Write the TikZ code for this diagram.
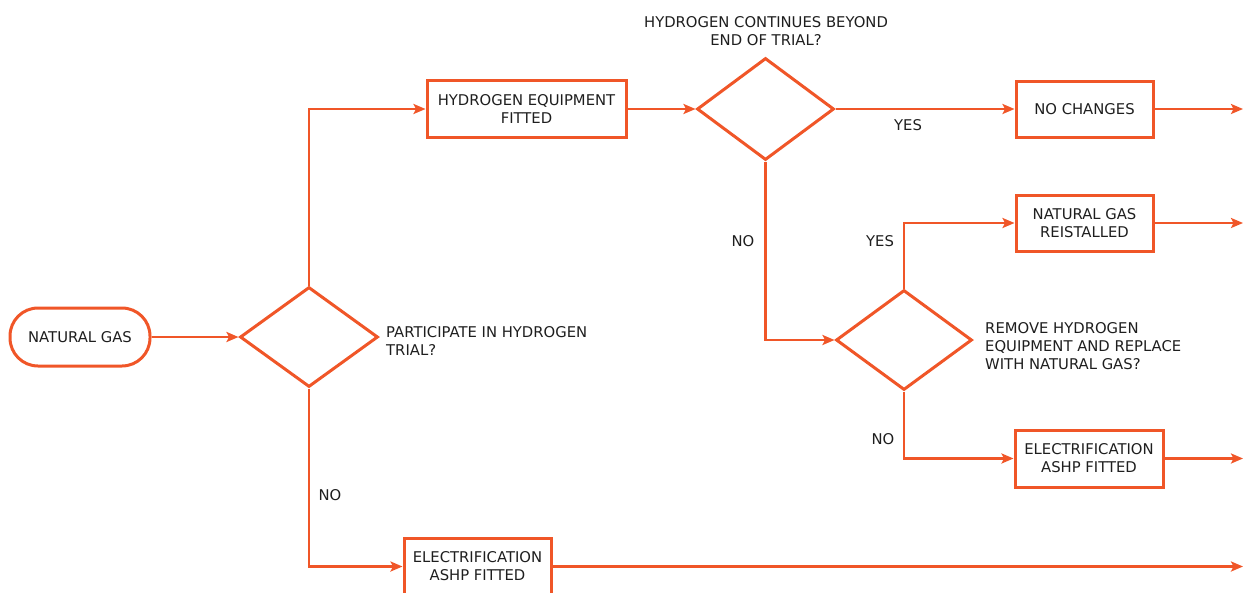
\documentclass[tikz,border=0pt]{standalone}
\usepackage{fontspec}
\setmainfont{DejaVu Sans}
\usetikzlibrary{shapes.geometric,arrows.meta}
\definecolor{flow}{RGB}{240,86,40}
\definecolor{ink}{RGB}{30,30,30}
\tikzset{
  every node/.style={text=ink,font=\fontsize{14.8}{17.8}\selectfont},
  link/.style={draw=flow,line width=2.8pt,-{Stealth[length=12pt,width=10pt,inset=2.5pt]}},
  stepbox/.style={draw=flow,line width=3pt,rectangle,align=center,inner sep=0pt},
  startbox/.style={draw=flow,line width=3pt,rectangle,rounded corners=28pt,align=center,inner sep=0pt,minimum width=140pt,minimum height=58pt},
  decide/.style={draw=flow,line width=3pt,diamond,inner sep=0pt},
  tag/.style={inner sep=0pt},
  question/.style={inner sep=0pt,align=left,anchor=west}
}
\begin{document}
\begin{tikzpicture}[x=1pt,y=-1pt]
\useasboundingbox (0,0) rectangle (1244,592);

% start
\node[startbox] (ng) at (80,337) {NATURAL GAS};

% first decision
\node[decide,minimum width=138pt,minimum height=100pt] (d1) at (309,337) {};
\node[question] (q1) at (386,341) {PARTICIPATE IN HYDROGEN\\TRIAL?};

% hydrogen branch
\node[stepbox,minimum width=199pt,minimum height=57pt] (h2) at (526.5,109) {HYDROGEN EQUIPMENT\\FITTED};
\node[decide,minimum width=137pt,minimum height=102pt] (d2) at (765.5,109) {};
\node[tag,align=center] (q2) at (766,31) {HYDROGEN CONTINUES BEYOND\\END OF TRIAL?};
\node[stepbox,minimum width=137pt,minimum height=56pt] (nc) at (1084.5,109) {NO CHANGES};

% end-of-trial decision
\node[decide,minimum width=136pt,minimum height=100pt] (d3) at (904,340) {};
\node[question] (q3) at (985,346) {REMOVE HYDROGEN\\EQUIPMENT AND REPLACE\\WITH NATURAL GAS?};
\node[stepbox,minimum width=137pt,minimum height=56pt] (re) at (1084.5,223) {NATURAL GAS\\REISTALLED};
\node[stepbox,minimum width=148pt,minimum height=57pt] (el1) at (1089,458.5) {ELECTRIFICATION\\ASHP FITTED};

% electrification without trial
\node[stepbox,minimum width=147pt,minimum height=57pt] (el2) at (477.5,566.5) {ELECTRIFICATION\\ASHP FITTED};

% right-hand edge where the outgoing arrows stop
\coordinate (edge) at (1243,0);

% connectors
\draw[link] (ng.east) -- (d1.west);
\draw[link] (d1.north) |- (h2.west);
\draw[link] (d1.south) |- (el2.west);
\draw[link] (h2.east) -- (d2.west);
\draw[link] (d2.east) -- (nc.west);
\draw[link] (d2.south) |- (d3.west);
\draw[link] (d3.north) |- (re.west);
\draw[link] (d3.south) |- (el1.west);
\draw[link] (nc.east) -- (nc.east -| edge);
\draw[link] (re.east) -- (re.east -| edge);
\draw[link] (el1.east) -- (el1.east -| edge);
\draw[link] (el2.east) -- (el2.east -| edge);

% branch labels
\node[tag] (y1) at (908,125) {YES};
\node[tag] (n1) at (743,241) {NO};
\node[tag] (y2) at (880,241) {YES};
\node[tag] (n2) at (883,439) {NO};
\node[tag] (n3) at (330,495) {NO};
\end{tikzpicture}
\end{document}
